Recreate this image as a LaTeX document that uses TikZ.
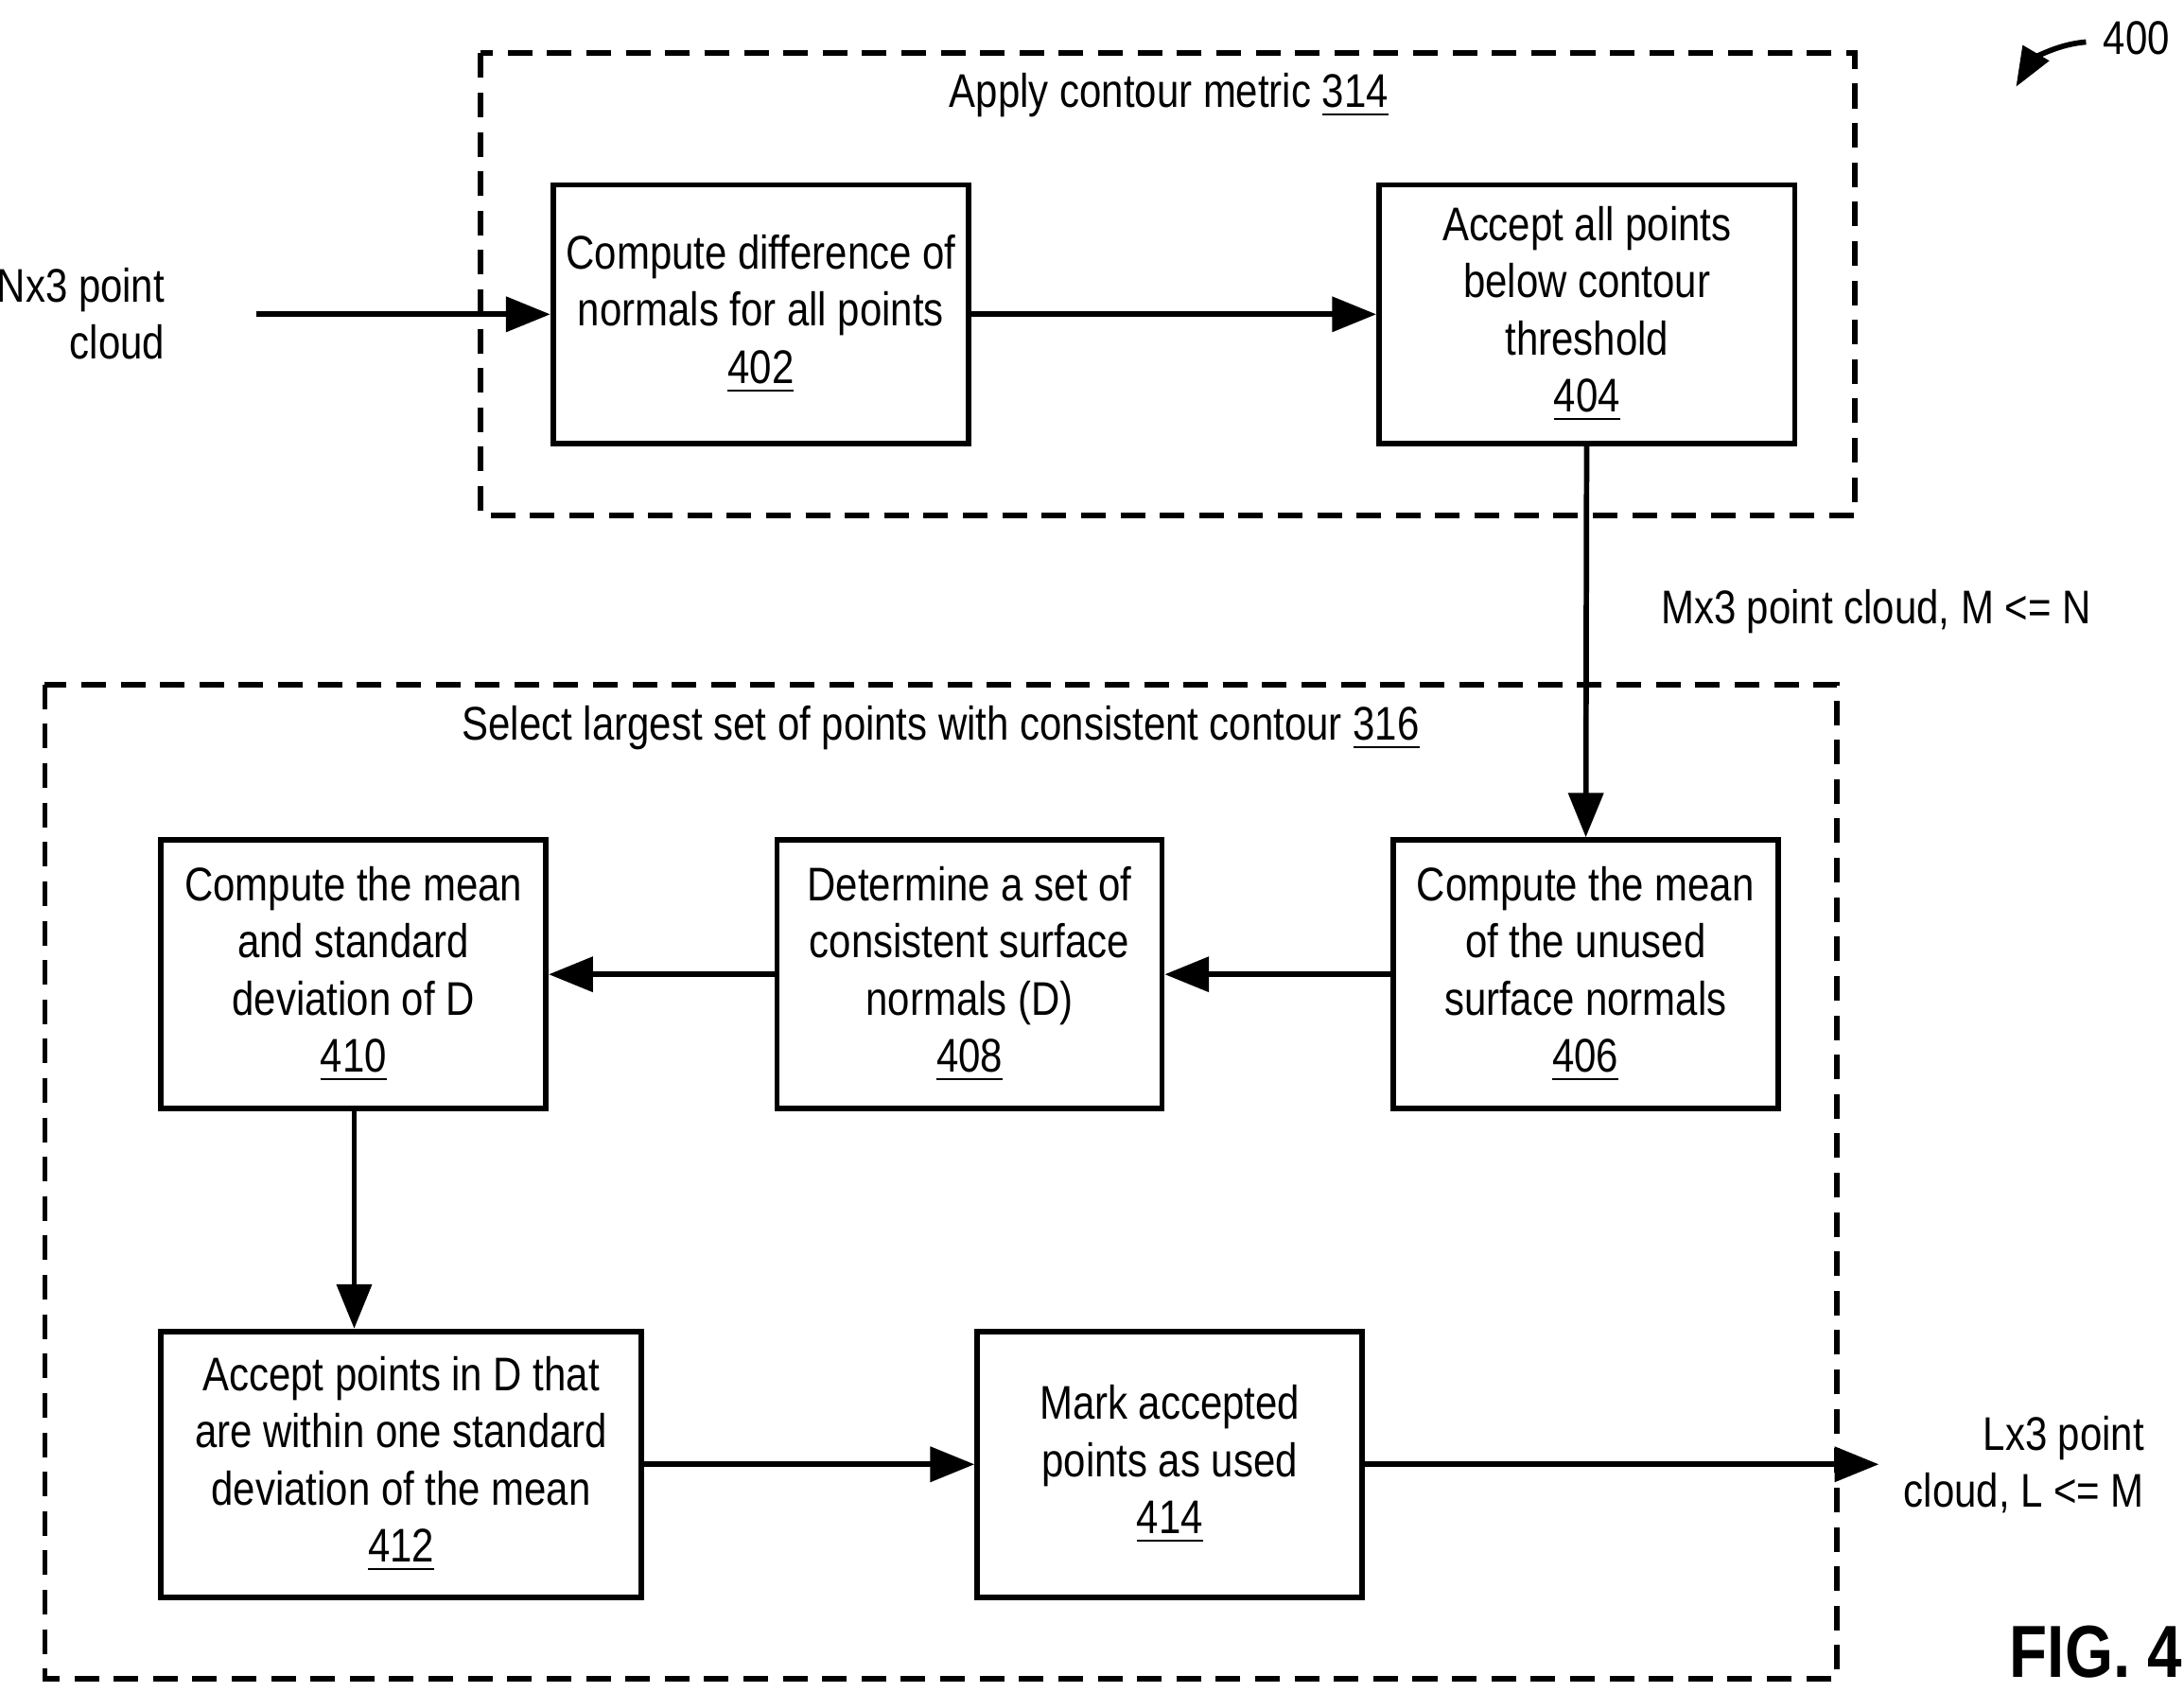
\documentclass[tikz,border=0pt]{standalone}
\usepackage{fontspec}
\setmainfont{Liberation Sans}[FakeStretch=0.84]
\usetikzlibrary{arrows.meta}
\begin{document}
\begin{tikzpicture}[x=1cm,y=-1cm,
  box/.style={draw,line width=1.1pt,align=center,inner sep=0pt,font=\fontsize{9.6}{11.6}\selectfont},
  grp/.style={draw,line width=1.1pt,dash pattern=on 5pt off 3pt},
  lbl/.style={font=\fontsize{9.6}{11.6}\selectfont},
  arr/.style={line width=1.1pt,-{Triangle[length=9pt,width=7pt]}}]
\useasboundingbox (0,0) rectangle (15.6,12.086);
\draw[grp] (3.43,0.38) rectangle (13.25,3.68);
\draw[grp] (0.32,4.89) rectangle (13.12,11.99);
\node[lbl] (t1) at (8.35,0.68) {Apply contour metric \underline{314}};
\node[lbl] (t2) at (6.72,5.20) {Select largest set of points with consistent contour \underline{316}};
\node[box,minimum width=2.97cm,minimum height=1.85cm] (b402) at (5.435,2.245) {Compute difference of\\normals for all points\\\underline{402}};
\node[box,minimum width=2.97cm,minimum height=1.85cm] (b404) at (11.335,2.245) {Accept all points\\below contour\\threshold\\\underline{404}};
\node[box,minimum width=2.75cm,minimum height=1.92cm] (b406) at (11.325,6.96) {Compute the mean\\of the unused\\surface normals\\\underline{406}};
\node[box,minimum width=2.75cm,minimum height=1.92cm] (b408) at (6.925,6.96) {Determine a set of\\consistent surface\\normals (D)\\\underline{408}};
\node[box,minimum width=2.75cm,minimum height=1.92cm] (b410) at (2.525,6.96) {Compute the mean\\and standard\\deviation of D\\\underline{410}};
\node[box,minimum width=3.43cm,minimum height=1.90cm] (b412) at (2.865,10.46) {Accept points in D that\\are within one standard\\deviation of the mean\\\underline{412}};
\node[box,minimum width=2.75cm,minimum height=1.90cm] (b414) at (8.355,10.46) {Mark accepted\\points as used\\\underline{414}};
\node[lbl,align=right,anchor=east] (nx) at (1.30,2.24) {Nx3 point\\cloud};
\node[lbl,anchor=west] (mx) at (11.74,4.37) {Mx3 point cloud, M <= N};
\node[lbl,align=right,anchor=east] (lx) at (15.44,10.46) {Lx3 point\\cloud, L <= M};
\coordinate (nin) at (1.83,2.245);
\coordinate (lout) at (13.42,10.46);
\draw[arr] (nin) -- (b402);
\draw[arr] (b402) -- (b404);
\draw[arr] (b404) -- (b406);
\draw[arr] (b406) -- (b408);
\draw[arr] (b408) -- (b410);
\draw[arr] (b410.south -| 2.53,0) -- (b412.north -| 2.53,0);
\draw[arr] (b412) -- (b414);
\draw[arr] (b414) -- (lout);
\node[lbl] (n400) at (15.26,0.27) {400};
\coordinate (a400) at (14.40,0.62);
\draw[arr,-{Triangle[length=8pt,width=6pt]}] (14.90,0.30) .. controls (14.65,0.32) and (14.50,0.45) .. (a400);
\node[font=\bfseries\fontsize{15}{18}\selectfont] (fig) at (14.97,11.80) {FIG. 4};
\end{tikzpicture}
\end{document}
